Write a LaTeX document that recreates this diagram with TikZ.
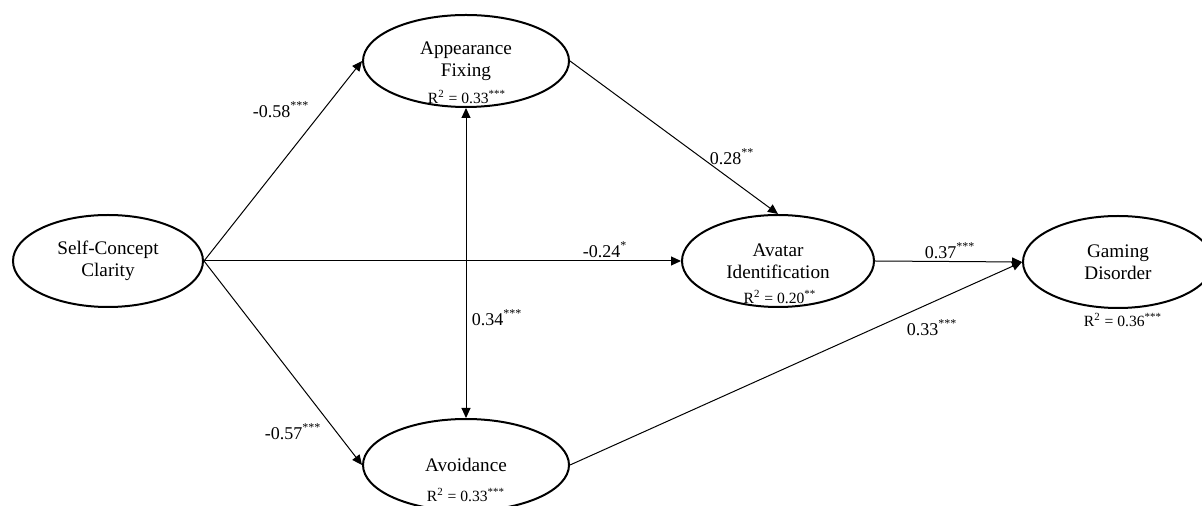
\documentclass[tikz,border=0pt]{standalone}
\usepackage{fontspec}
\setmainfont{Liberation Serif}
\usetikzlibrary{shapes.geometric,arrows.meta}
\tikzset{
  latent/.style={ellipse, draw, line width=1pt, minimum height=46pt, inner sep=0pt,
    align=center, font=\fontsize{9.6}{11}\selectfont},
  rsq/.style={inner sep=0pt, font=\fontsize{7.8}{9}\selectfont},
  coef/.style={inner sep=0pt, font=\fontsize{9}{10}\selectfont},
  link/.style={->, line width=0.5pt},
}
\newcommand{\sig}[1]{\textsuperscript{#1}}
\begin{document}
\begin{tikzpicture}[x=0.5pt, y=-0.5pt, >={Triangle[length=5pt,width=4.5pt]}]
  \useasboundingbox (0,0) rectangle (1202,506);
  % constructs
  \node[latent, minimum width=95pt] (scc) at (108,261) {Self-Concept\\Clarity};
  \node[latent, minimum width=103pt] (af) at (466,61) {Appearance\\Fixing};
  \node[latent, minimum width=103pt] (avo) at (466,465) {Avoidance};
  \node[latent, minimum width=96pt] (ava) at (778,261) {Avatar\\Identification};
  \node[latent, minimum width=95pt] (gd) at (1118,262) {Gaming\\Disorder};
  % explained variance
  \node[rsq] (afr) at (467,97) {R\sig{2} = 0.33\sig{***}};
  \node[rsq] (avar) at (780,297) {R\sig{2} = 0.20\sig{**}};
  \node[rsq] (avor) at (466,495) {R\sig{2} = 0.33\sig{***}};
  \node[rsq] (gdr) at (1123,320) {R\sig{2} = 0.36\sig{***}};
  % paths
  \draw[link] (scc.east) -- (af.west);
  \draw[link] (scc.east) -- (avo.west);
  \draw[link] (scc.east) -- (ava.west);
  \draw[link, <->] (af.south) -- (avo.north);
  \draw[link] (af.east) -- (ava.north);
  \draw[link] (ava.east) -- (gd.west);
  \draw[link] (avo.east) -- (gd.west);
  % coefficients
  \node[coef] (c1) at (281,110) {-0.58\sig{***}};
  \node[coef] (c2) at (293,432) {-0.57\sig{***}};
  \node[coef] (c3) at (605,250) {-0.24\sig{*}};
  \node[coef] (c4) at (497,318) {0.34\sig{***}};
  \node[coef] (c5) at (732,157) {0.28\sig{**}};
  \node[coef] (c6) at (950,251) {0.37\sig{***}};
  \node[coef] (c7) at (932,328) {0.33\sig{***}};
\end{tikzpicture}
\end{document}
